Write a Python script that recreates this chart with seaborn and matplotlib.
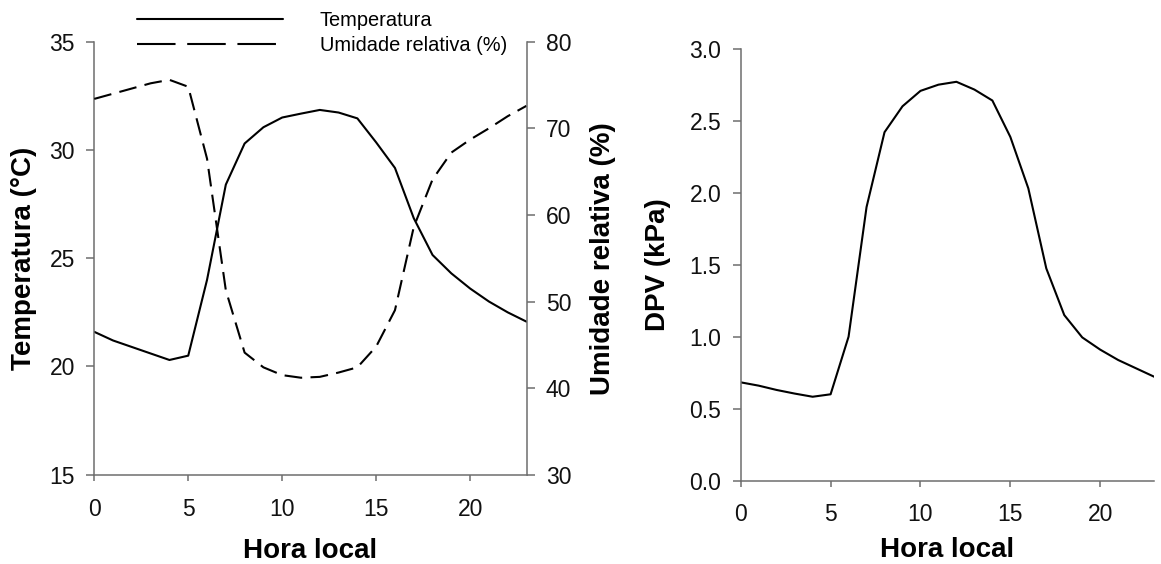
import numpy as np
import pandas as pd
import matplotlib
matplotlib.use("Agg")
import matplotlib.pyplot as plt
import seaborn as sns
from matplotlib.lines import Line2D

# hourly values
hora = list(range(24))
temperatura = [21.6, 21.2, 20.9, 20.6, 20.3, 20.5, 24.0, 28.4, 30.3, 31.05,
               31.5, 31.68, 31.85, 31.73, 31.46, 30.35, 29.17, 26.85, 25.15,
               24.3, 23.6, 23.0, 22.5, 22.07]
umidade = [73.4, 74.0, 74.6, 75.2, 75.6, 74.8, 66.5, 51.3, 44.1, 42.4,
           41.5, 41.2, 41.3, 41.8, 42.4, 44.8, 49.0, 58.6, 64.1, 67.2,
           68.7, 70.0, 71.4, 72.6]
dpv = [0.683, 0.66, 0.63, 0.605, 0.583, 0.60, 1.00, 1.90, 2.42, 2.60,
       2.707, 2.75, 2.77, 2.716, 2.64, 2.387, 2.03, 1.474, 1.15, 0.995,
       0.91, 0.838, 0.78, 0.722]

df = pd.DataFrame({"hora": hora, "temp": temperatura, "ur": umidade, "dpv": dpv})

sns.set_style("ticks")
plt.rcParams["font.family"] = ["Liberation Sans", "DejaVu Sans"]
plt.rcParams["text.color"] = "black"
plt.rcParams["axes.labelcolor"] = "black"

spine_col = "#6e6e6e"
tick_fs = 16.5
label_fs = 20
lw = 1.5

fig = plt.figure(figsize=(11.61, 5.64), dpi=100)
ax1 = fig.add_axes([0.0812, 0.1583, 0.3723, 0.7677])
ax2 = ax1.twinx()
ax3 = fig.add_axes([0.638, 0.1477, 0.3561, 0.766])

# left panel: temperature + relative humidity
sns.lineplot(data=df, x="hora", y="temp", ax=ax1, color="black", lw=lw)
sns.lineplot(data=df, x="hora", y="ur", ax=ax2, color="black", lw=lw)
ax2.lines[0].set_dashes((8.5, 4))

ax1.set_xlim(0, 23)
ax1.set_ylim(15, 35)
ax2.set_ylim(30, 80)
ax1.set_xticks([0, 5, 10, 15, 20])
ax1.set_yticks([15, 20, 25, 30, 35])
ax2.set_yticks([30, 40, 50, 60, 70, 80])
ax1.set_xlabel("Hora local", fontsize=label_fs, fontweight="bold", labelpad=12)
ax1.set_ylabel("Temperatura (°C)", fontsize=label_fs, fontweight="bold", labelpad=9)
ax2.set_ylabel("Umidade relativa (%)", fontsize=label_fs, fontweight="bold", labelpad=13)

for a in (ax1, ax2):
    a.spines["top"].set_visible(False)
ax1.spines["right"].set_visible(False)
ax2.spines["left"].set_visible(False)
ax2.spines["bottom"].set_visible(False)

# right panel: vapour pressure deficit
sns.lineplot(data=df, x="hora", y="dpv", ax=ax3, color="black", lw=lw)
ax3.set_xlim(0, 23)
ax3.set_ylim(0, 3.0)
ax3.set_xticks([0, 5, 10, 15, 20])
ax3.set_yticks(np.arange(0, 3.01, 0.5))
ax3.yaxis.set_major_formatter(matplotlib.ticker.FormatStrFormatter("%.1f"))
ax3.set_xlabel("Hora local", fontsize=label_fs, fontweight="bold", labelpad=8)
ax3.set_ylabel("DPV (kPa)", fontsize=label_fs, fontweight="bold", labelpad=13)
ax3.spines["top"].set_visible(False)
ax3.spines["right"].set_visible(False)

for a in (ax1, ax2, ax3):
    for s in a.spines.values():
        s.set_color(spine_col)
        s.set_linewidth(1.1)
    a.tick_params(axis="y", direction="out", length=6, width=1.1,
                  color=spine_col, labelsize=tick_fs, pad=8, labelcolor="#111111")
    a.tick_params(axis="x", direction="out", length=4.3, width=1.1,
                  color=spine_col, labelsize=tick_fs, pad=12.5, labelcolor="#111111")
ax3.tick_params(axis="x", pad=11.5)

# legend above the left panel
handles = [Line2D([], [], color="black", lw=lw),
           Line2D([], [], color="black", lw=lw, dashes=(18.5, 5.6))]
fig.legend(handles, ["Temperatura", "Umidade relativa (%)"],
           loc="upper left", bbox_to_anchor=(137 / 1161, 0.98), frameon=False,
           borderpad=0, borderaxespad=0,
           fontsize=14.4, handlelength=7.3, handletextpad=1.85, labelspacing=0.27)

fig.savefig("out.png", dpi=100)
